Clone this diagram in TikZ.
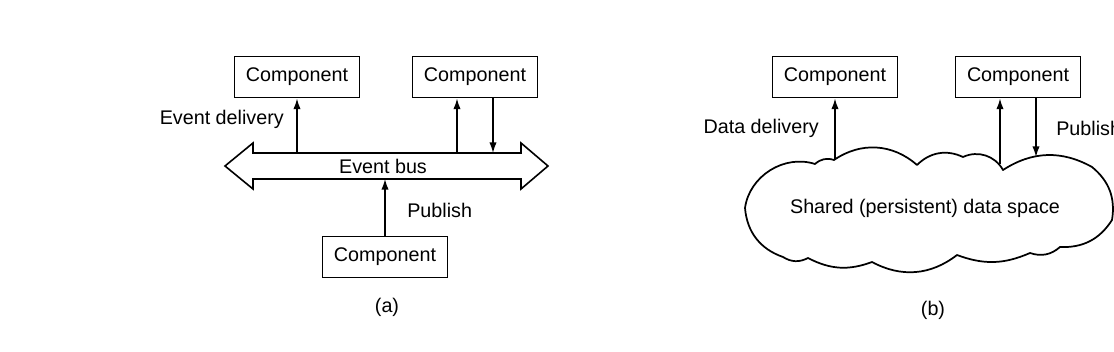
\documentclass[tikz,border=0pt]{standalone}
\usepackage{fontspec}
\setmainfont{Liberation Sans}
\usetikzlibrary{arrows.meta}
\begin{document}
\begin{tikzpicture}[x=0.75pt,y=0.75pt,
  comp/.style={draw,line width=1.2pt,minimum width=94pt,minimum height=31pt,inner sep=0pt},
  lbl/.style={inner sep=0pt},
  conn/.style={line width=1.1pt,-{Latex[length=8pt,width=5.5pt]}},
  outline/.style={line width=1.2pt,line join=miter},
  cloudline/.style={line width=1.3pt,line join=round},
  font=\fontsize{14.8}{17}\selectfont]
\useasboundingbox (0,0) rectangle (1114,-352);

% ---------- (a) event bus ----------
\node[comp] (a1) at (297,-77) {Component};
\node[comp] (a2) at (475,-77) {Component};
\node[comp] (a3) at (385,-257) {Component};

\draw[outline] (253,-153) -- (521,-153) -- (521,-143) -- (548,-166) -- (521,-189)
  -- (521,-179) -- (253,-179) -- (253,-189) -- (225,-166) -- (253,-143) -- cycle;
\node[lbl] (bus) at (383,-166) {Event bus};

\coordinate (bt1) at (297,-153);
\coordinate (bt2) at (457,-153);
\coordinate (bt3) at (493,-153);
\coordinate (bb) at (385,-179);

\draw[conn] (bt1) -- (bt1 |- a1.south);
\draw[conn] (bt2) -- (bt2 |- a2.south);
\draw[conn] (bt3 |- a2.south) -- (bt3);
\draw[conn] (a3.north) -- (bb);

\node[lbl,anchor=east] (ed) at (284,-119) {Event delivery};
\node[lbl,anchor=west] (pa) at (407,-210) {Publish};
\node[lbl] (capa) at (387,-307) {(a)};

% ---------- (b) shared data space ----------
\node[comp] (b1) at (835,-77) {Component};
\node[comp] (b2) at (1018,-77) {Component};

\coordinate (c1) at (834,-160);
\coordinate (c2) at (917,-165);
\coordinate (c3) at (963,-157);
\coordinate (c4) at (1003,-170);
\coordinate (c5) at (1092,-167);
\coordinate (c6) at (1112,-220);
\coordinate (c7) at (1060,-247);
\coordinate (c8) at (1030,-253);
\coordinate (c9) at (957,-255);
\coordinate (c10) at (872,-262);
\coordinate (c11) at (808,-258);
\coordinate (c12) at (783,-257);
\coordinate (c13) at (745,-208);
\coordinate (c14) at (815,-164);

\draw[cloudline] (c1) to[bend left=38] (c2) to[bend left=35] (c3)
  to[bend left=43] (c4) to[bend left=31] (c5) to[bend left=30] (c6)
  to[bend left=30] (c7) to[bend left=30] (c8) to[bend left=22] (c9)
  to[bend left=33] (c10) to[bend left=24] (c11) to[bend left=30] (c12)
  to[bend left=33] (c13) to[bend left=50] (c14) to[bend left=30] (c1) -- cycle;

\node[lbl] (space) at (925,-208) {Shared (persistent) data space};

\coordinate (d1) at (835,-160);
\coordinate (d2) at (1000,-164);
\coordinate (d3) at (1036,-157);

\draw[conn] (d1) -- (d1 |- b1.south);
\draw[conn] (d2) -- (d2 |- b2.south);
\draw[conn] (d3 |- b2.south) -- (d3);

\node[lbl,anchor=east] (dd) at (819,-128) {Data delivery};
\node[lbl,anchor=west] (pb) at (1056,-128) {Publish};
\node[lbl] (capb) at (933,-310) {(b)};
\end{tikzpicture}
\end{document}
